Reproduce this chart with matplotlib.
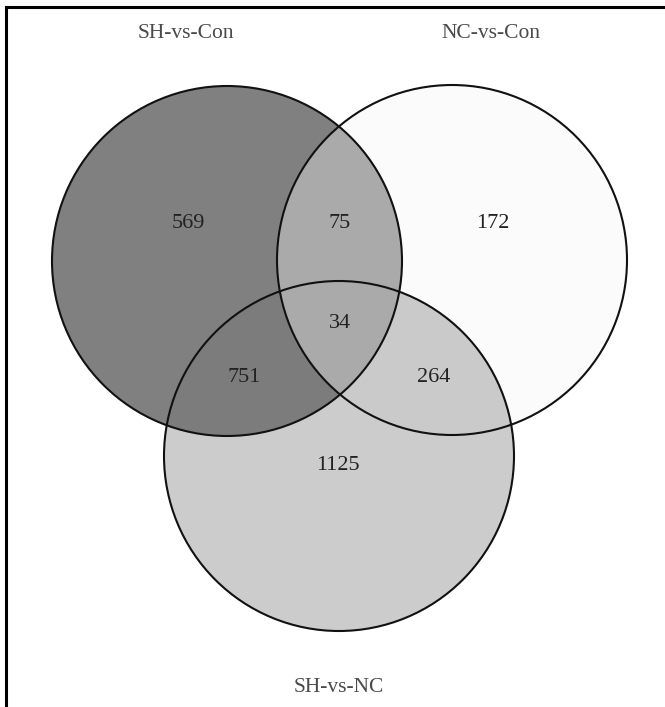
"""3-set Venn diagram (SH/NC/Con)"""
import matplotlib
matplotlib.use("Agg")
import matplotlib.pyplot as plt
from matplotlib.patches import Circle
from matplotlib.lines import Line2D

# data
set_names = ["SH-vs-Con", "NC-vs-Con", "SH-vs-NC"]
region_keys = ["100", "110", "010", "111", "101", "011", "001"]
region_counts = [569, 75, 172, 34, 751, 264, 1125]

# layout (pixel coords, y down)
W, H = 665, 707
centers = [(227, 261), (452, 260), (339, 456)]
R = 175
label_pos = [(186, 33), (491, 33), (339, 688)]
count_pos = {"100": (188, 223), "110": (340, 223), "010": (493, 223),
             "111": (340, 324), "101": (244, 377), "011": (434, 377),
             "001": (338, 466)}
base_fill = ["#808080", "#fbfbfb", "#cccccc"]

fig = plt.figure(figsize=(W / 100, H / 100), dpi=100)
ax = fig.add_axes([0, 0, 1, 1])
ax.set_xlim(0, W)
ax.set_ylim(H, 0)
ax.axis("off")


def circ(i, **kw):
    return Circle(centers[i], R, transform=ax.transData, **kw)


# base fills: C, A, B
for i in (2, 0, 1):
    ax.add_patch(circ(i, facecolor=base_fill[i], edgecolor="none", zorder=1))

# overlaps (patch of one circle clipped by another)
overlaps = [(0, 2, "#7c7c7c"),   # A∩C
            (1, 2, "#cacaca"),   # B∩C
            (1, 0, "#aaaaaa")]   # A∩B (incl. centre)
for i, j, col in overlaps:
    p = circ(i, facecolor=col, edgecolor="none", zorder=2)
    ax.add_patch(p)
    p.set_clip_path(circ(j))

# outlines
for i in range(3):
    ax.add_patch(circ(i, facecolor="none", edgecolor="#111111", lw=1.5, zorder=3))

# frame lines (left + top)
ax.add_line(Line2D([6, 6], [7, H], color="black", lw=2.2, zorder=4))
ax.add_line(Line2D([6, W], [7, 7], color="black", lw=2.2, zorder=4))

font = ["Liberation Serif", "DejaVu Serif"]
for name, (x, y) in zip(set_names, label_pos):
    ax.text(x, y, name, ha="center", va="center", fontsize=15.5,
            color="#4a4a4a", family=font, zorder=5)
for key, n in zip(region_keys, region_counts):
    x, y = count_pos[key]
    ax.text(x, y, str(n), ha="center", va="center", fontsize=16,
            color="#222222", family=font, zorder=5)

fig.savefig("out.png", dpi=100)
plt.close(fig)
